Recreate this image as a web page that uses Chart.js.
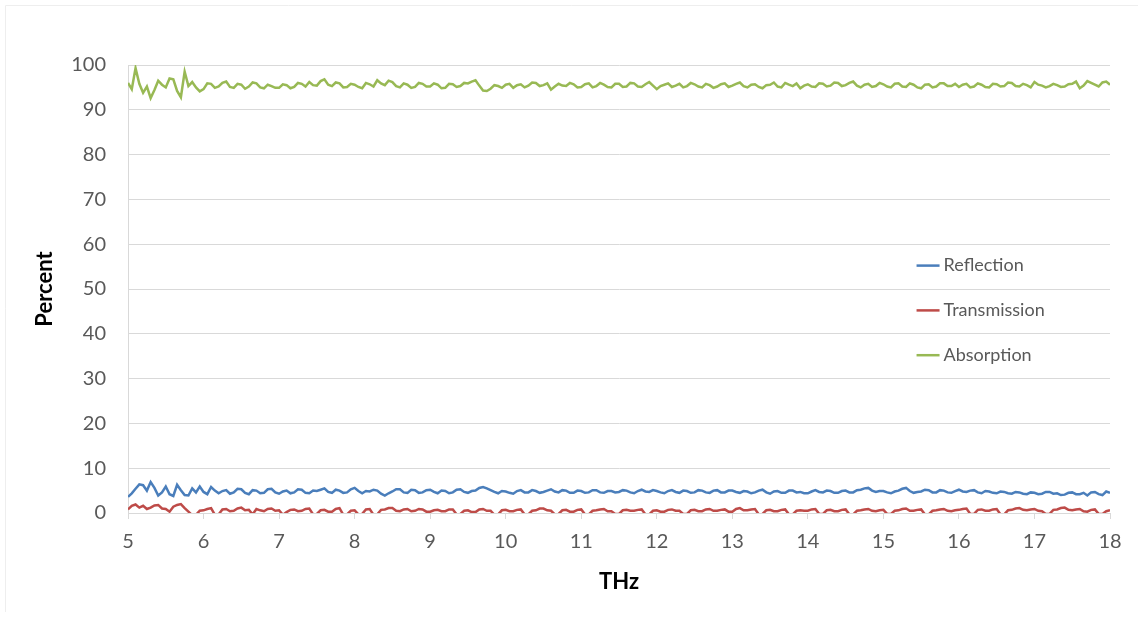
<!DOCTYPE html>
<html>
<head>
<meta charset="utf-8">
<script src="https://cdn.jsdelivr.net/npm/chart.js@4/dist/chart.umd.min.js"></script>
<style>
  html, body { margin: 0; padding: 0; background: #ffffff; }
  #wrap { width: 1143px; height: 618px; position: relative; }
</style>
</head>
<body>
<div id="wrap"><canvas id="c" width="1143" height="618"></canvas></div>
<script>
const freqTHz = [
  5.00,5.05,5.10,5.15,5.20,5.25,5.30,5.35,5.40,5.45,5.50,5.55,5.60,5.65,5.70,5.75,5.80,5.85,5.90,5.95,
  6.00,6.05,6.10,6.15,6.20,6.25,6.30,6.35,6.40,6.45,6.50,6.55,6.60,6.65,6.70,6.75,6.80,6.85,6.90,6.95,
  7.00,7.05,7.10,7.15,7.20,7.25,7.30,7.35,7.40,7.45,7.50,7.55,7.60,7.65,7.70,7.75,7.80,7.85,7.90,7.95,
  8.00,8.05,8.10,8.15,8.20,8.25,8.30,8.35,8.40,8.45,8.50,8.55,8.60,8.65,8.70,8.75,8.80,8.85,8.90,8.95,
  9.00,9.05,9.10,9.15,9.20,9.25,9.30,9.35,9.40,9.45,9.50,9.55,9.60,9.65,9.70,9.75,9.80,9.85,9.90,9.95,
  10.00,10.05,10.10,10.15,10.20,10.25,10.30,10.35,10.40,10.45,10.50,10.55,10.60,10.65,10.70,10.75,10.80,10.85,10.90,10.95,
  11.00,11.05,11.10,11.15,11.20,11.25,11.30,11.35,11.40,11.45,11.50,11.55,11.60,11.65,11.70,11.75,11.80,11.85,11.90,11.95,
  12.00,12.05,12.10,12.15,12.20,12.25,12.30,12.35,12.40,12.45,12.50,12.55,12.60,12.65,12.70,12.75,12.80,12.85,12.90,12.95,
  13.00,13.05,13.10,13.15,13.20,13.25,13.30,13.35,13.40,13.45,13.50,13.55,13.60,13.65,13.70,13.75,13.80,13.85,13.90,13.95,
  14.00,14.05,14.10,14.15,14.20,14.25,14.30,14.35,14.40,14.45,14.50,14.55,14.60,14.65,14.70,14.75,14.80,14.85,14.90,14.95,
  15.00,15.05,15.10,15.15,15.20,15.25,15.30,15.35,15.40,15.45,15.50,15.55,15.60,15.65,15.70,15.75,15.80,15.85,15.90,15.95,
  16.00,16.05,16.10,16.15,16.20,16.25,16.30,16.35,16.40,16.45,16.50,16.55,16.60,16.65,16.70,16.75,16.80,16.85,16.90,16.95,
  17.00,17.05,17.10,17.15,17.20,17.25,17.30,17.35,17.40,17.45,17.50,17.55,17.60,17.65,17.70,17.75,17.80,17.85,17.90,17.95,
  18.00
];

const reflection = [
  3.6,4.4,5.4,6.4,6.2,5.0,6.9,5.6,3.9,4.6,5.9,4.2,3.8,6.3,5.1,4.0,3.9,5.5,4.6,5.9,
  4.7,4.2,5.8,5.0,4.4,4.9,5.1,4.3,4.6,5.4,5.3,4.5,4.2,5.1,5.0,4.4,4.5,5.3,5.4,4.6,
  4.3,4.8,5.0,4.4,4.6,5.3,5.2,4.5,4.4,5.0,4.9,5.2,5.5,4.7,4.5,5.2,5.0,4.5,4.6,5.3,
  5.6,4.9,4.4,4.9,4.8,5.2,5.0,4.3,3.9,4.4,4.8,5.3,5.3,4.6,4.5,5.2,5.1,4.5,4.6,5.1,
  5.2,4.7,4.4,5.0,4.9,4.4,4.6,5.2,5.3,4.7,4.5,4.9,5.0,5.6,5.8,5.5,5.1,4.7,4.4,4.9,
  4.8,4.5,4.3,4.9,5.1,4.6,4.6,5.1,4.9,4.5,4.7,5.0,5.3,4.8,4.6,5.1,5.0,4.5,4.5,5.0,
  4.9,4.5,4.6,5.1,5.1,4.6,4.5,4.9,4.9,4.6,4.7,5.1,5.0,4.6,4.4,4.9,5.2,4.8,4.7,5.1,
  4.9,4.6,4.4,4.9,5.1,4.7,4.5,5.0,4.9,4.5,4.6,5.1,5.0,4.6,4.5,5.0,5.1,4.6,4.6,5.0,
  5.0,4.7,4.5,4.9,4.8,4.4,4.6,5.0,5.2,4.6,4.3,4.8,4.9,4.5,4.5,5.0,5.0,4.6,4.7,4.4,
  4.4,4.8,5.1,4.7,4.6,5.0,4.9,4.5,4.5,4.9,5.0,4.6,4.6,5.1,5.2,5.5,5.6,5.0,4.7,4.9,
  4.9,4.6,4.4,4.8,5.0,5.4,5.6,4.9,4.5,4.7,4.8,5.2,5.1,4.6,4.6,5.1,5.0,4.6,4.5,4.9,
  5.2,4.8,4.7,5.0,5.1,4.6,4.4,4.9,4.8,4.5,4.4,4.8,4.7,4.4,4.3,4.7,4.6,4.3,4.2,4.6,
  4.5,4.2,4.3,4.7,4.7,4.3,4.4,4.0,4.1,4.5,4.6,4.2,4.2,4.5,3.9,4.6,4.7,4.2,4.0,4.8,
  4.5
];

const transmission = [
  0.8,1.6,1.9,1.2,1.6,0.9,1.2,1.7,1.8,1.0,0.9,0.3,1.4,1.8,2.0,1.1,0.3,-0.5,-0.4,0.5,
  0.6,0.9,1.1,-0.4,-0.3,0.8,0.9,0.4,0.5,1.0,1.2,0.6,0.7,-0.3,0.9,0.6,0.4,0.9,1.0,0.5,
  0.6,-0.4,0.2,0.7,0.8,0.4,0.5,0.9,1.0,-0.3,-0.2,0.6,0.7,0.3,0.3,0.9,1.1,-0.4,-0.3,0.5,
  0.6,-0.3,-0.2,0.8,0.9,-0.4,-0.3,0.7,0.8,1.1,1.1,0.5,0.4,0.8,0.9,0.4,0.5,0.9,0.8,0.3,
  0.3,0.6,0.7,0.4,0.4,0.8,0.8,-0.3,-0.2,0.5,0.6,0.2,0.2,0.8,0.9,0.5,0.5,-0.4,-0.3,0.6,
  0.7,0.4,0.4,0.7,0.8,-0.3,-0.3,0.5,0.6,1.0,1.0,0.6,0.5,-0.3,-0.2,0.6,0.7,0.3,0.3,0.7,
  0.8,-0.3,-0.3,0.5,0.6,0.8,0.9,0.4,0.4,-0.2,-0.2,0.6,0.7,0.5,0.5,0.7,0.8,-0.3,-0.3,0.5,
  0.6,0.3,0.3,0.7,0.8,0.5,0.5,-0.2,-0.2,0.6,0.7,0.4,0.4,0.8,0.9,0.5,0.5,0.7,0.8,0.3,
  0.3,0.9,1.1,0.6,0.6,0.8,0.9,-0.3,-0.2,0.6,0.7,0.4,0.4,0.7,0.8,-0.3,-0.3,0.5,0.6,0.5,
  0.5,0.8,0.9,-0.2,-0.2,0.6,0.7,0.4,0.4,0.7,0.8,-0.3,-0.3,0.5,0.6,0.8,0.9,0.5,0.4,0.6,
  0.7,-0.2,-0.2,0.5,0.6,0.9,1.0,0.5,0.5,0.7,0.8,-0.3,-0.3,0.5,0.6,0.8,0.9,0.5,0.4,0.6,
  0.7,0.9,1.0,-0.2,-0.2,0.7,0.8,0.5,0.5,0.8,0.9,-0.3,-0.3,0.6,0.7,1.0,1.1,0.7,0.6,0.8,
  0.9,0.5,0.4,-0.2,-0.2,0.7,0.8,1.1,1.2,0.7,0.6,0.8,0.9,0.4,0.3,0.7,0.8,-0.2,-0.2,0.4,
  0.6
];

const absorption = [
  96.0,94.6,99.3,95.8,93.8,95.2,92.6,94.4,96.5,95.6,95.0,97.0,96.8,94.2,92.8,98.5,95.3,96.2,95.0,94.1,
  94.6,95.9,95.8,94.9,95.2,96.0,96.3,95.1,94.9,95.8,95.6,94.7,95.2,96.1,95.9,95.0,94.8,95.6,95.3,94.9,
  94.9,95.7,95.5,94.8,95.1,96.0,95.8,95.2,96.2,95.5,95.4,96.4,96.8,95.6,95.3,96.1,95.9,95.0,95.1,95.8,
  95.6,95.1,94.8,96.0,95.7,95.2,96.6,95.9,95.5,96.5,96.2,95.3,95.0,95.9,95.6,94.9,95.1,96.0,95.8,95.2,
  95.2,95.9,95.6,94.8,94.9,95.8,95.7,95.1,95.3,96.0,95.9,96.3,96.6,95.4,94.3,94.2,94.7,95.5,95.3,94.9,
  95.6,95.8,94.9,95.5,95.7,95.0,95.4,96.1,96.0,95.3,95.5,95.9,94.5,95.2,95.8,95.4,95.3,96.0,95.7,95.0,
  95.1,95.7,95.9,95.0,95.3,96.0,95.6,95.1,95.0,95.8,95.8,95.1,95.2,96.0,95.9,95.2,95.1,95.7,96.2,95.4,
  94.6,95.3,95.6,95.9,95.1,95.4,95.8,95.0,95.3,96.0,95.7,95.2,95.0,95.8,95.5,94.9,95.2,95.7,95.9,95.1,
  95.4,95.8,96.1,95.3,95.0,95.6,95.7,95.1,94.8,95.5,95.6,96.1,95.2,95.0,96.0,95.6,95.3,95.9,94.8,95.4,
  95.7,95.2,95.1,95.9,95.8,95.2,95.4,96.1,96.0,95.3,95.5,96.0,96.3,95.4,95.0,95.6,95.8,95.1,95.3,96.0,
  95.7,95.2,95.0,95.8,95.9,95.2,95.1,95.9,95.6,95.0,94.8,95.6,95.7,95.0,95.2,95.9,95.9,95.3,95.3,95.8,
  95.1,95.6,95.8,95.0,95.2,95.9,95.6,95.1,95.0,95.8,95.7,95.2,95.3,96.1,96.0,95.3,95.2,95.8,95.5,95.0,
  96.2,95.6,95.4,95.0,95.3,95.8,95.5,95.1,95.2,95.7,95.8,96.3,94.8,95.4,96.4,96.0,95.6,95.2,96.1,96.3,
  95.6
];

const seriesNames = ["Reflection", "Transmission", "Absorption"];
const seriesColors = ["#4A7EBB", "#BE4B48", "#98B954"];
const xTickValues = [5,6,7,8,9,10,11,12,13,14,15,16,17,18];
const yTickValues = [0,10,20,30,40,50,60,70,80,90,100];

const FONT = "Lato, 'Open Sans', 'DejaVu Sans', sans-serif";
const TXT = "#595959";

function pts(ys) { return freqTHz.map((x, i) => ({ x: x, y: ys[i] })); }

const borderPlugin = {
  id: 'frame',
  beforeDraw(chart) {
    const ctx = chart.ctx;
    ctx.save();
    ctx.fillStyle = '#ffffff';
    ctx.fillRect(0, 0, chart.width, chart.height);
    ctx.strokeStyle = '#eeeeee';
    ctx.lineWidth = 1;
    ctx.beginPath();
    ctx.moveTo(5.5, 612);
    ctx.lineTo(5.5, 5.5);
    ctx.lineTo(1138, 5.5);
    ctx.stroke();
    ctx.restore();
  }
};

const legendPlugin = {
  id: 'insideLegend',
  afterDraw(chart) {
    const ctx = chart.ctx;
    const a = chart.chartArea;
    const yScale = chart.scales.y;
    const lx = a.left + (a.right - a.left) * 0.803;
    const rowVals = [55, 45, 35];
    ctx.save();
    ctx.font = "18px " + FONT;
    ctx.textBaseline = 'middle';
    ctx.textAlign = 'left';
    chart.data.datasets.forEach((ds, i) => {
      const y = yScale.getPixelForValue(rowVals[i]) - 1;
      ctx.strokeStyle = ds.borderColor;
      ctx.lineWidth = 2.5;
      ctx.beginPath();
      ctx.moveTo(lx, y);
      ctx.lineTo(lx + 23, y);
      ctx.stroke();
      ctx.fillStyle = TXT;
      ctx.fillText(ds.label, lx + 27, y);
    });
    ctx.restore();
  }
};

new Chart(document.getElementById('c'), {
  type: 'line',
  data: {
    datasets: [
      { label: seriesNames[0], data: pts(reflection), borderColor: seriesColors[0] },
      { label: seriesNames[1], data: pts(transmission), borderColor: seriesColors[1] },
      { label: seriesNames[2], data: pts(absorption), borderColor: seriesColors[2] }
    ].map(d => Object.assign(d, { borderWidth: 2.5, pointRadius: 0, tension: 0, fill: false }))
  },
  options: {
    responsive: false,
    animation: false,
    devicePixelRatio: 1,
    layout: { padding: { left: 0, top: 65, right: 33, bottom: 0 } },
    plugins: { legend: { display: false }, tooltip: { enabled: false } },
    scales: {
      x: {
        type: 'linear',
        min: 5, max: 18,
        afterFit: s => { s.height = 105; },
        afterBuildTicks: s => { s.ticks = xTickValues.map(v => ({ value: v })); },
        grid: { drawOnChartArea: false, drawTicks: true, tickLength: 6, color: '#d9d9d9' },
        border: { display: true, color: '#d9d9d9', width: 1 },
        ticks: { color: TXT, font: { family: FONT, size: 20 }, padding: 11, maxRotation: 0 },
        title: { display: true, text: 'THz', color: '#000000', font: { family: FONT, size: 22, weight: 'bold' }, padding: { top: 0, bottom: 23 } }
      },
      y: {
        min: 0, max: 100,
        afterFit: s => { s.width = 128; },
        afterBuildTicks: s => { s.ticks = yTickValues.map(v => ({ value: v })); },
        grid: { color: '#d9d9d9', drawTicks: false, lineWidth: 1 },
        border: { display: true, color: '#d9d9d9', width: 1 },
        ticks: { color: TXT, font: { family: FONT, size: 20 }, padding: 22 },
        title: { display: true, text: 'Percent', color: '#000000', font: { family: FONT, size: 22, weight: 'bold' }, padding: { top: 32, bottom: 0 } }
      }
    }
  },
  plugins: [borderPlugin, legendPlugin]
});
</script>
</body>
</html>
